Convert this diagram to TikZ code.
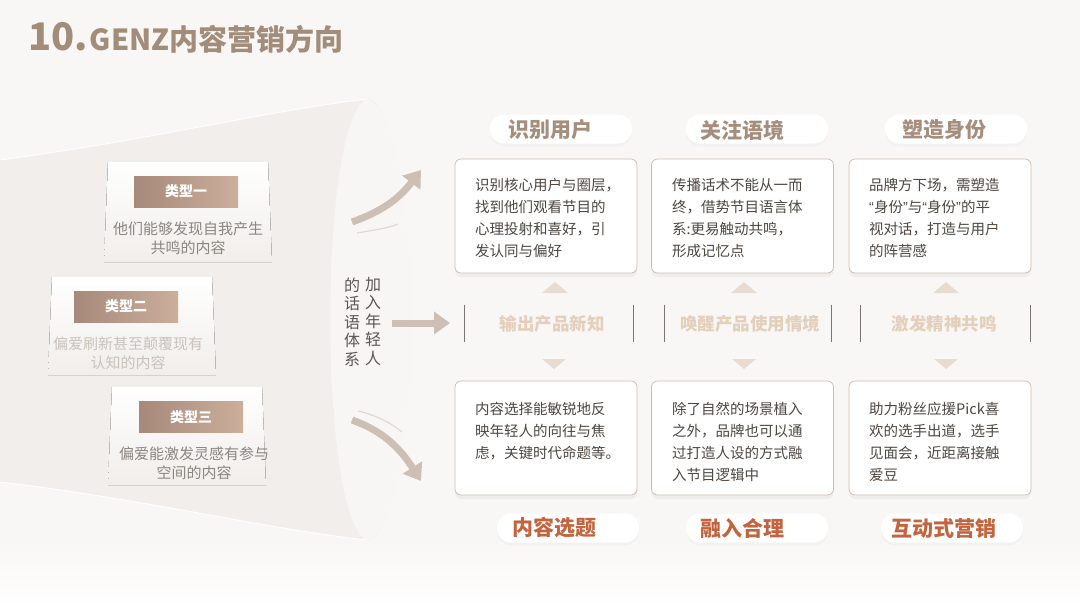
\documentclass[tikz,border=0pt]{standalone}
\usepackage{fontspec}
\setmainfont{Noto Sans CJK SC}
\newfontfamily\quotefont{Liberation Sans}
\usetikzlibrary{shadows,arrows.meta}
\definecolor{bgc}{HTML}{F9F7F5}
\definecolor{funnelc}{HTML}{F1EEEB}
\definecolor{mouthc}{HTML}{F8F6F4}
\definecolor{titlec}{HTML}{A28C7A}
\definecolor{typeL}{HTML}{A6897A}
\definecolor{typeR}{HTML}{CBAE9B}
\definecolor{desc}{HTML}{8C8580}
\definecolor{descfade}{HTML}{C9C2BC}
\definecolor{vtc}{HTML}{5C5752}
\definecolor{boxtext}{HTML}{4D4641}
\definecolor{boxline}{HTML}{CDBDB2}
\definecolor{headtop}{HTML}{A68E7C}
\definecolor{headbot}{HTML}{C4643E}
\definecolor{midc}{HTML}{E3CFBB}
\definecolor{barc}{HTML}{7A7570}
\definecolor{arrc}{HTML}{CDBFB3}
\definecolor{tric}{HTML}{E8DCD0}
\newcommand{\myLq}{{\quotefont“}}
\newcommand{\myRq}{{\quotefont”}}
\begin{document}
\begin{tikzpicture}[x=1pt,y=-1pt,
  typebox/.style={left color=typeL,right color=typeR,minimum width=104pt,minimum height=31pt,inner sep=0pt,text=white,font=\bfseries\fontsize{14}{16}\selectfont},
  desctext/.style={text=desc,align=center,inner sep=0pt,font=\fontsize{15}{19}\selectfont},
  card/.style={draw=boxline,line width=0.7pt,fill=white,rounded corners=6pt,minimum width=182pt,minimum height=114pt,inner sep=0pt,drop shadow={opacity=0.08,shadow xshift=0pt,shadow yshift=-4pt}},
  cardtext/.style={text=boxtext,align=left,anchor=north west,inner sep=0pt,font=\fontsize{14.5}{22}\selectfont},
  pill/.style={fill=white,rounded corners=14pt,minimum width=142pt,minimum height=29pt,inner sep=0pt,drop shadow={opacity=0.04,shadow xshift=0pt,shadow yshift=-3pt}},
  headtext/.style={text=headtop,inner sep=0pt,font=\bfseries\fontsize{21}{24}\selectfont},
  foottext/.style={text=headbot,inner sep=0pt,font=\bfseries\fontsize{21}{24}\selectfont},
  midtext/.style={text=midc,inner sep=0pt,font=\bfseries\fontsize{17.5}{20}\selectfont},
  bar/.style={draw=barc,line width=0.8pt},
  vtext/.style={text=vtc,align=center,inner sep=0pt,font=\fontsize{16}{18.5}\selectfont},
  bigarrow/.style={draw=arrc,line width=7pt,-{Triangle[length=16pt,width=22pt]}},
  thinarc/.style={draw=arrc!60,line width=1.2pt},
  tri/.style={fill=tric},
  panel/.style={top color=white,bottom color=funnelc}
]
\useasboundingbox (0,0) rectangle (1080,608);
\fill[bgc] (0,0) rectangle (1080,608);
\fill[top color=bgc,bottom color=white] (0,540) rectangle (1080,608);

% funnel
\fill[funnelc] (0,160) .. controls (150,140) and (260,112) .. (367,99)
   .. controls (420,99) and (420,540) .. (367,540)
   .. controls (260,528) and (150,500) .. (0,482) -- cycle;
\draw[white,line width=1pt] (0,160) .. controls (150,140) and (260,112) .. (367,99);
\draw[white,line width=1pt] (0,482) .. controls (150,500) and (260,528) .. (367,540);
\fill[mouthc] (367,99) .. controls (425,110) and (425,530) .. (367,540)
   .. controls (318,520) and (318,120) .. (367,99) -- cycle;

% type panels
\fill[panel] (108,162) -- (268,162) -- (272,262) -- (104,262) -- cycle;
\fill[panel] (52,277) -- (212,277) -- (216,375) -- (48,375) -- cycle;
\fill[panel] (112,387) -- (262,387) -- (266,485) -- (108,485) -- cycle;

% type boxes and descriptions
\node[typebox] (ty1) at (186,191.5) {类型一};
\node[typebox] (ty2) at (126,306.5) {类型二};
\node[typebox] (ty3) at (191,417) {类型三};
\node[desctext] (d1) at (188,238) {他们能够发现自我产生\\共鸣的内容};
\node[desctext,text=descfade] (d2) at (128,353) {偏爱刷新甚至颠覆现有\\认知的内容};
\node[desctext] (d3) at (194,463) {偏爱能激发灵感有参与\\空间的内容};

% vertical text
\node[vtext] (vt1) at (373,321) {加\\入\\年\\轻\\人};
\node[vtext] (vt2) at (352,322) {的\\话\\语\\体\\系};

% arrows
\coordinate (a1s) at (352,222);
\coordinate (a1e) at (421,170);
\coordinate (a2s) at (392,323);
\coordinate (a2e) at (450,323);
\coordinate (a3s) at (352,420);
\coordinate (a3e) at (421,481);
\draw[bigarrow] (a1s) .. controls (380,212) and (398,200) .. (a1e);
\draw[bigarrow] (a2s) -- (a2e);
\draw[bigarrow] (a3s) .. controls (380,430) and (398,445) .. (a3e);
\coordinate (c1s) at (357,233);
\coordinate (c1e) at (398,224);
\coordinate (c2s) at (358,411);
\coordinate (c2e) at (402,432);
\draw[thinarc] (c1s) .. controls (375,230) and (388,228) .. (c1e);
\draw[thinarc] (c2s) .. controls (375,415) and (390,422) .. (c2e);

% header pills
\node[pill] (p1) at (561,129) {};
\node[pill] (p2) at (757,129) {};
\node[pill] (p3) at (956,129) {};
\node[headtext] (h1) at (550,130) {识别用户};
\node[headtext] (h2) at (742,130) {关注语境};
\node[headtext] (h3) at (944,130) {塑造身份};

% top cards
\node[card] (tb1) at (546,216) {};
\node[card] (tb2) at (742.5,216) {};
\node[card] (tb3) at (940,216) {};
\node[cardtext] (tt1) at (475,178) {识别核心用户与圈层，\\找到他们观看节目的\\心理投射和喜好，引\\发认同与偏好};
\node[cardtext] (tt2) at (672,178) {传播话术不能从一而\\终，借势节目语言体\\系:更易触动共鸣，\\形成记忆点};
\node[cardtext] (tt3) at (869,178) {品牌方下场，需塑造\\\myLq 身份\myRq 与\myLq 身份\myRq 的平\\视对话，打造与用户\\的阵营感};

% triangles
\fill[tri] (555,282) -- (542,293) -- (568,293) -- cycle;
\fill[tri] (744,282) -- (731,293) -- (757,293) -- cycle;
\fill[tri] (946,282) -- (933,293) -- (959,293) -- cycle;
\fill[tri] (554,369) -- (542,359) -- (566,359) -- cycle;
\fill[tri] (744,369) -- (732,359) -- (756,359) -- cycle;
\fill[tri] (946,369) -- (934,359) -- (958,359) -- cycle;

% middle row
\draw[bar] (464,305) -- (464,342);
\draw[bar] (633,305) -- (633,342);
\draw[bar] (664,305) -- (664,342);
\draw[bar] (831,305) -- (831,342);
\draw[bar] (860,305) -- (860,342);
\draw[bar] (1030,305) -- (1030,342);
\node[midtext] (m1) at (552,324) {输出产品新知};
\node[midtext] (m2) at (750,324) {唤醒产品使用情境};
\node[midtext] (m3) at (944,324) {激发精神共鸣};

% bottom cards
\node[card] (bb1) at (546,438) {};
\node[card] (bb2) at (742.5,438) {};
\node[card] (bb3) at (940,438) {};
\node[cardtext] (bt1) at (475,402) {内容选择能敏锐地反\\映年轻人的向往与焦\\虑，关键时代命题等。};
\node[cardtext] (bt2) at (672,402) {除了自然的场景植入\\之外，品牌也可以通\\过打造人设的方式融\\入节目逻辑中};
\node[cardtext] (bt3) at (869,402) {助力粉丝应援Pick喜\\欢的选手出道，选手\\见面会，近距离接触\\爱豆};

% footer pills
\node[pill] (q1) at (568,528) {};
\node[pill] (q2) at (757,528) {};
\node[pill] (q3) at (952,528) {};
\node[foottext] (f1) at (554,528) {内容选题};
\node[foottext] (f2) at (742,528) {融入合理};
\node[foottext] (f3) at (944,528) {互动式营销};

% title
\node[anchor=base west,inner sep=0pt,text=titlec,font=\bfseries] (title) at (28,50)
  {{\fontsize{38}{40}\selectfont 10.}\hspace{2pt}{\fontsize{29}{32}\selectfont GENZ内容营销方向}};
\end{tikzpicture}
\end{document}
